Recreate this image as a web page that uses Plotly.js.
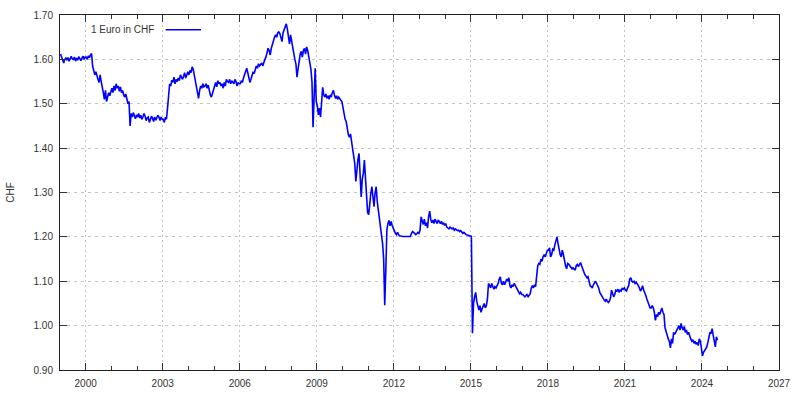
<!DOCTYPE html>
<html>
<head>
<meta charset="utf-8">
<script src="https://cdn.plot.ly/plotly-3.0.1.min.js"></script>
<style>
  html, body { margin: 0; padding: 0; background: #fff; }
  #chart { width: 800px; height: 400px; }
</style>
</head>
<body>
<div id="chart"></div>
<script>
// EUR/CHF, semi-monthly readings (24 per year: first and second half of each month)
const seriesName = "1 Euro in CHF";
const yAxisLabel = "CHF";
const xTickYears = [2000, 2003, 2006, 2009, 2012, 2015, 2018, 2021, 2024, 2027];
const yTickValues = [0.90, 1.00, 1.10, 1.20, 1.30, 1.40, 1.50, 1.60, 1.70];

const y1999 = [1.612, 1.605, 1.598, 1.592, 1.600, 1.603, 1.598, 1.604, 1.596, 1.602, 1.607, 1.601, 1.600, 1.605, 1.596, 1.603, 1.598, 1.606, 1.602, 1.597, 1.603, 1.607, 1.600, 1.605];
const y2000 = [1.605, 1.600, 1.608, 1.604, 1.610, 1.613, 1.585, 1.570, 1.565, 1.572, 1.560, 1.555, 1.548, 1.565, 1.550, 1.540, 1.525, 1.510, 1.530, 1.505, 1.520, 1.525, 1.518, 1.530];
const y2001 = [1.535, 1.525, 1.540, 1.530, 1.545, 1.535, 1.540, 1.528, 1.538, 1.525, 1.530, 1.520, 1.515, 1.522, 1.510, 1.500, 1.505, 1.450, 1.478, 1.470, 1.480, 1.472, 1.466, 1.475];
const y2002 = [1.470, 1.478, 1.468, 1.474, 1.465, 1.470, 1.478, 1.472, 1.462, 1.468, 1.470, 1.458, 1.465, 1.472, 1.467, 1.460, 1.470, 1.463, 1.468, 1.474, 1.470, 1.462, 1.470, 1.465];
const y2003 = [1.465, 1.458, 1.470, 1.465, 1.490, 1.520, 1.545, 1.540, 1.553, 1.548, 1.560, 1.545, 1.555, 1.550, 1.558, 1.552, 1.565, 1.560, 1.555, 1.562, 1.570, 1.558, 1.568, 1.572];
const y2004 = [1.565, 1.575, 1.570, 1.583, 1.578, 1.565, 1.548, 1.535, 1.520, 1.512, 1.530, 1.540, 1.535, 1.545, 1.538, 1.540, 1.545, 1.535, 1.542, 1.530, 1.520, 1.515, 1.525, 1.535];
const y2005 = [1.545, 1.548, 1.538, 1.552, 1.545, 1.548, 1.540, 1.545, 1.535, 1.548, 1.540, 1.555, 1.550, 1.548, 1.555, 1.545, 1.552, 1.548, 1.545, 1.555, 1.550, 1.540, 1.548, 1.545];
const y2006 = [1.545, 1.552, 1.548, 1.558, 1.565, 1.575, 1.580, 1.570, 1.560, 1.548, 1.555, 1.565, 1.572, 1.568, 1.575, 1.585, 1.580, 1.590, 1.585, 1.590, 1.592, 1.585, 1.595, 1.600];
const y2007 = [1.605, 1.615, 1.625, 1.620, 1.610, 1.625, 1.635, 1.645, 1.650, 1.655, 1.650, 1.660, 1.662, 1.658, 1.650, 1.640, 1.660, 1.668, 1.672, 1.680, 1.668, 1.650, 1.635, 1.655];
const y2008 = [1.640, 1.620, 1.610, 1.600, 1.590, 1.560, 1.578, 1.600, 1.612, 1.618, 1.605, 1.620, 1.625, 1.612, 1.628, 1.620, 1.600, 1.592, 1.578, 1.550, 1.447, 1.510, 1.580, 1.505];
const y2009 = [1.495, 1.475, 1.490, 1.470, 1.510, 1.537, 1.520, 1.515, 1.522, 1.512, 1.518, 1.510, 1.520, 1.515, 1.525, 1.530, 1.520, 1.512, 1.518, 1.510, 1.515, 1.510, 1.508, 1.505];
const y2010 = [1.490, 1.478, 1.465, 1.460, 1.440, 1.430, 1.425, 1.432, 1.415, 1.395, 1.380, 1.365, 1.325, 1.360, 1.375, 1.388, 1.340, 1.290, 1.330, 1.343, 1.373, 1.335, 1.300, 1.255];
const y2011 = [1.250, 1.285, 1.298, 1.313, 1.290, 1.268, 1.300, 1.313, 1.280, 1.260, 1.250, 1.228, 1.210, 1.185, 1.150, 1.046, 1.125, 1.215, 1.230, 1.237, 1.225, 1.235, 1.225, 1.218];
const y2012 = [1.210, 1.208, 1.205, 1.210, 1.205, 1.202, 1.202, 1.201, 1.201, 1.201, 1.201, 1.201, 1.201, 1.201, 1.201, 1.201, 1.208, 1.212, 1.210, 1.208, 1.205, 1.207, 1.210, 1.208];
const y2013 = [1.215, 1.245, 1.235, 1.228, 1.240, 1.225, 1.232, 1.220, 1.245, 1.258, 1.240, 1.232, 1.238, 1.230, 1.240, 1.235, 1.230, 1.238, 1.232, 1.230, 1.235, 1.228, 1.232, 1.226];
const y2014 = [1.230, 1.222, 1.220, 1.218, 1.222, 1.220, 1.218, 1.220, 1.215, 1.218, 1.215, 1.214, 1.215, 1.212, 1.214, 1.210, 1.208, 1.210, 1.207, 1.205, 1.204, 1.203, 1.202, 1.202];
const y2015 = [1.201, 0.983, 1.050, 1.065, 1.075, 1.055, 1.040, 1.035, 1.045, 1.030, 1.038, 1.045, 1.050, 1.040, 1.045, 1.060, 1.095, 1.090, 1.085, 1.095, 1.085, 1.082, 1.088, 1.085];
const y2016 = [1.090, 1.095, 1.105, 1.110, 1.095, 1.092, 1.100, 1.092, 1.098, 1.105, 1.100, 1.108, 1.090, 1.085, 1.092, 1.088, 1.095, 1.090, 1.085, 1.080, 1.078, 1.072, 1.075, 1.070];
const y2017 = [1.070, 1.068, 1.065, 1.068, 1.070, 1.065, 1.070, 1.072, 1.085, 1.090, 1.085, 1.092, 1.088, 1.110, 1.135, 1.140, 1.138, 1.150, 1.145, 1.155, 1.160, 1.155, 1.165, 1.170];
const y2018 = [1.170, 1.175, 1.155, 1.160, 1.172, 1.170, 1.182, 1.192, 1.200, 1.185, 1.170, 1.160, 1.155, 1.170, 1.160, 1.145, 1.135, 1.128, 1.140, 1.138, 1.135, 1.132, 1.128, 1.130];
const y2019 = [1.128, 1.125, 1.135, 1.138, 1.133, 1.140, 1.142, 1.135, 1.128, 1.120, 1.115, 1.112, 1.108, 1.110, 1.100, 1.090, 1.088, 1.085, 1.092, 1.098, 1.100, 1.095, 1.090, 1.085];
const y2020 = [1.075, 1.070, 1.065, 1.060, 1.058, 1.055, 1.060, 1.055, 1.052, 1.055, 1.062, 1.080, 1.070, 1.065, 1.070, 1.080, 1.078, 1.082, 1.075, 1.080, 1.078, 1.085, 1.082, 1.085];
const y2021 = [1.080, 1.078, 1.085, 1.090, 1.105, 1.108, 1.100, 1.098, 1.100, 1.095, 1.098, 1.092, 1.090, 1.085, 1.078, 1.082, 1.090, 1.080, 1.075, 1.068, 1.060, 1.052, 1.045, 1.040];
const y2022 = [1.040, 1.045, 1.040, 1.030, 1.012, 1.025, 1.020, 1.030, 1.025, 1.035, 1.040, 1.030, 1.025, 0.995, 0.985, 0.975, 0.970, 0.965, 0.950, 0.970, 0.960, 0.985, 0.980, 0.985];
const y2023 = [0.990, 0.995, 1.000, 0.990, 1.005, 0.995, 0.990, 0.998, 0.985, 0.990, 0.980, 0.985, 0.975, 0.970, 0.965, 0.968, 0.960, 0.965, 0.958, 0.962, 0.955, 0.970, 0.965, 0.940];
const y2024 = [0.932, 0.940, 0.945, 0.950, 0.952, 0.962, 0.978, 0.985, 0.982, 0.993, 0.978, 0.968, 0.952, 0.975, 0.967];

const yearly = [
  [1999, y1999], [2000, y2000], [2001, y2001], [2002, y2002], [2003, y2003],
  [2004, y2004], [2005, y2005], [2006, y2006], [2007, y2007], [2008, y2008],
  [2009, y2009], [2010, y2010], [2011, y2011], [2012, y2012], [2013, y2013],
  [2014, y2014], [2015, y2015], [2016, y2016], [2017, y2017], [2018, y2018],
  [2019, y2019], [2020, y2020], [2021, y2021], [2022, y2022], [2023, y2023],
  [2024, y2024]
];

const xs = [], ys = [];
yearly.forEach(([yr, vals]) => {
  vals.forEach((v, i) => { xs.push(yr + (i + 0.5) / 24); ys.push(v); });
});

const FONT = "Liberation Sans, Arial, sans-serif";
const TXT = "#333333";

const trace = {
  x: xs, y: ys, type: "scatter", mode: "lines", name: seriesName,
  line: { color: "#0000ff", width: 1.6 },
  showlegend: false, hoverinfo: "skip"
};

const layout = {
  width: 800, height: 400,
  margin: { l: 60, r: 21, t: 15, b: 30, pad: 0 },
  paper_bgcolor: "#ffffff", plot_bgcolor: "#ffffff",
  font: { family: FONT, size: 10, color: TXT },
  showlegend: false,
  xaxis: {
    range: [1999, 2027], tickmode: "array", tickvals: xTickYears,
    ticktext: xTickYears.map(String),
    ticks: "inside", ticklen: 7, tickwidth: 1, tickcolor: "#333",
    minor: { dtick: 1, tick0: 1999, ticks: "inside", ticklen: 4, tickwidth: 1, tickcolor: "#333", showgrid: false },
    showline: true, linecolor: "#222", linewidth: 1, mirror: "ticks",
    showgrid: true, gridcolor: "#c4c4c4", gridwidth: 1, griddash: "2px,3px",
    zeroline: false, ticklabelstandoff: 4,
    tickfont: { family: FONT, size: 10, color: TXT }
  },
  yaxis: {
    range: [0.9, 1.7], tickmode: "array", tickvals: yTickValues,
    ticktext: yTickValues.map(v => v.toFixed(2)),
    ticks: "inside", ticklen: 7, tickwidth: 1, tickcolor: "#333",
    showline: true, linecolor: "#222", linewidth: 1, mirror: "ticks",
    showgrid: true, gridcolor: "#c4c4c4", gridwidth: 1, griddash: "3px,4px",
    zeroline: false, ticklabelstandoff: 4,
    tickfont: { family: FONT, size: 10, color: TXT },
    title: { text: yAxisLabel, font: { family: FONT, size: 10, color: TXT }, standoff: 17 }
  },
  annotations: [{
    xref: "paper", yref: "paper", x: 0.1335, y: 0.9586,
    xanchor: "right", yanchor: "middle", showarrow: false,
    text: seriesName, font: { family: FONT, size: 10, color: TXT }
  }],
  shapes: [{
    type: "line", xref: "paper", yref: "paper",
    x0: 0.147, x1: 0.196, y0: 0.9586, y1: 0.9586,
    line: { color: "#0000ff", width: 1.4 }
  }]
};

Plotly.newPlot("chart", [trace], layout, { staticPlot: true, displayModeBar: false });
</script>
</body>
</html>
